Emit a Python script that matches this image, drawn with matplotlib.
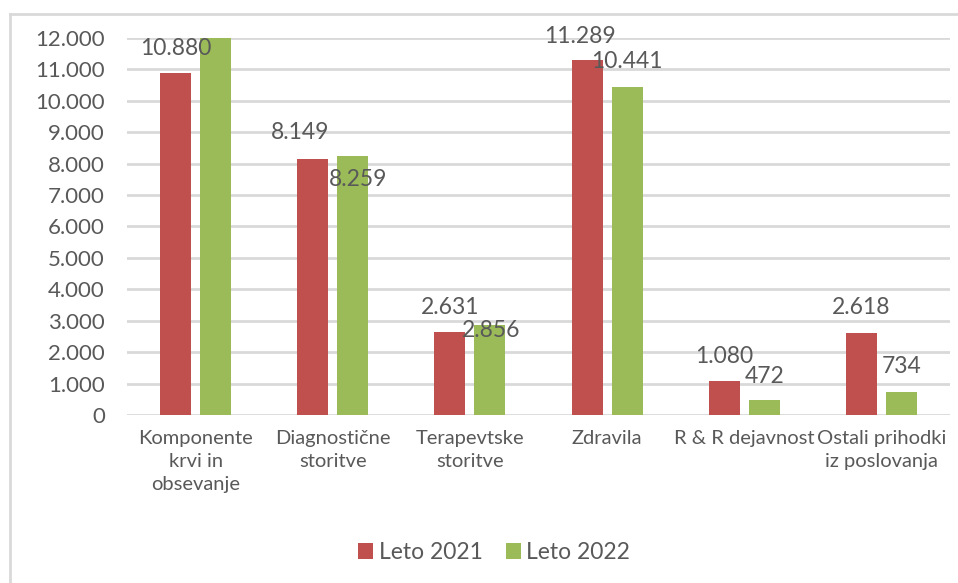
import numpy as np
import matplotlib
matplotlib.use("Agg")
import matplotlib.pyplot as plt
from matplotlib.lines import Line2D

plt.rcParams['font.family'] = ['Lato', 'DejaVu Sans']

categories = ["Komponente\nkrvi in\nobsevanje", "Diagnostične\nstoritve",
              "Terapevtske\nstoritve", "Zdravila", "R & R dejavnost",
              "Ostali prihodki\niz poslovanja"]
leto_2021 = [10880, 8149, 2631, 11289, 1080, 2618]
# first 2022 bar runs past the top of the axis in the original, its value is not shown
leto_2022 = [12600, 8259, 2856, 10441, 472, 734]
labels_2021 = ["10.880", "8.149", "2.631", "11.289", "1.080", "2.618"]
labels_2022 = [None, "8.259", "2.856", "10.441", "472", "734"]
yticks = np.arange(0, 12001, 1000)

# label nudges in points (dx, dy from bar top)
off_2021 = [(0, 18), (-9, 19), (0, 18), (-5, 17), (0, 18), (0, 18)]
off_2022 = [(0, 18), (4, -17), (1, -4), (0, 18), (0, 17), (0, 18)]

red = "#C0504D"
green = "#9BBB59"
txt = "#595959"

fig = plt.figure(figsize=(9.58, 5.83), dpi=100)
ax = fig.add_axes([0.1326, 0.2882, 0.859, 0.6466])

x = np.arange(len(categories))
w = 0.226
b1 = ax.bar(x - 0.146, leto_2021, w, color=red, label="Leto 2021", zorder=3)
b2 = ax.bar(x + 0.146, leto_2022, w, color=green, label="Leto 2022", zorder=3)

for rect, lab, (dx, dy) in zip(b1, labels_2021, off_2021):
    ax.annotate(lab, (rect.get_x() + rect.get_width() / 2, rect.get_height()),
                xytext=(dx, dy), textcoords="offset points", ha="center",
                va="center", fontsize=16.5, color=txt, zorder=4)
for rect, lab, (dx, dy) in zip(b2, labels_2022, off_2022):
    if lab is None:
        continue
    ax.annotate(lab, (rect.get_x() + rect.get_width() / 2, rect.get_height()),
                xytext=(dx, dy), textcoords="offset points", ha="center",
                va="center", fontsize=16.5, color=txt, zorder=4)

ax.set_xlim(-0.5, len(categories) - 0.5)
ax.set_ylim(0, 12000)
ax.set_yticks(yticks)
ax.set_yticklabels([f"{v:,}".replace(",", ".") for v in yticks])
ax.set_xticks(x)
ax.set_xticklabels(categories, linespacing=1.42)
ax.tick_params(axis="y", length=0, pad=16, labelsize=16, labelcolor=txt)
ax.tick_params(axis="x", length=0, pad=11, labelsize=14.5, labelcolor=txt)
ax.grid(axis="y", color="#d9d9d9", linewidth=2, zorder=0)
for s in ax.spines.values():
    s.set_visible(False)

leg = fig.legend(handles=[b1, b2], loc="center", bbox_to_anchor=(0.516, 0.052),
                 ncol=2, frameon=False, fontsize=16.5, handlelength=0.65,
                 handleheight=0.65, handletextpad=0.25, columnspacing=1.0)
for t in leg.get_texts():
    t.set_color(txt)

# outer chart border (only top and left visible in the crop)
fig.add_artist(Line2D([10 / 958, 10 / 958], [0, 1 - 14 / 583], color="#d9d9d9", linewidth=2))
fig.add_artist(Line2D([10 / 958, 1], [1 - 14 / 583, 1 - 14 / 583], color="#d9d9d9", linewidth=2))

fig.savefig("out.png", dpi=100)
